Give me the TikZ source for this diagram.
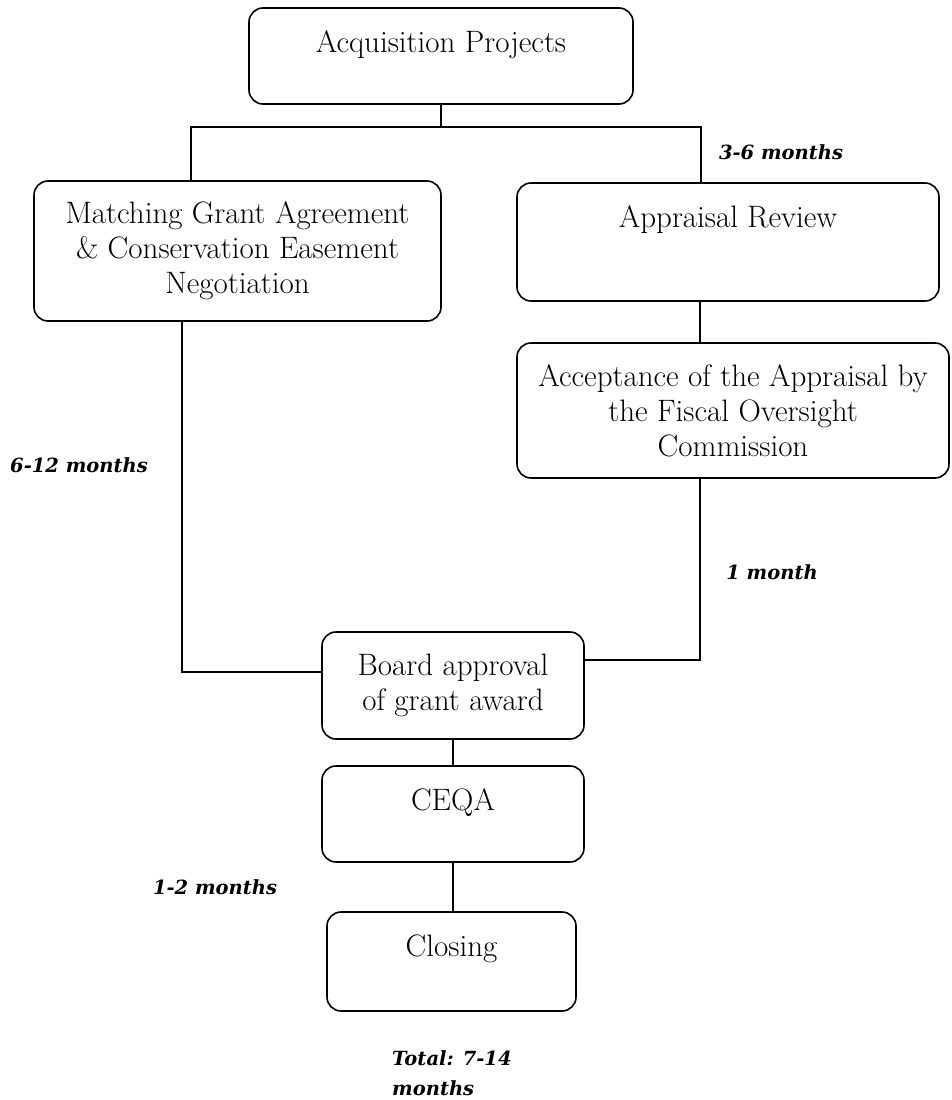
\documentclass[tikz,border=0pt]{standalone}
\usepackage{fontspec}
\newfontfamily\durfont{DejaVu Serif}

\begin{document}
\begin{tikzpicture}[x=1pt, y=-1pt,
  box/.style={draw, line width=1.6pt, rounded corners=14pt, align=center,
              inner sep=0pt, font=\fontsize{31}{35}\selectfont},
  topbox/.style={box, text height=44pt, text depth=#1},
  link/.style={draw, line width=1.4pt},
  dur/.style={font=\fontsize{19.5}{30}\selectfont\durfont\bfseries\itshape}
]
  \useasboundingbox (0,0) rectangle (951,1100);

  % process boxes
  \node[topbox=52pt, minimum width=384pt, minimum height=96pt]  (acq)     at (441,56)    {Acquisition Projects};
  \node[box, minimum width=407pt, minimum height=140pt]         (match)   at (237.5,251) {Matching Grant Agreement\\ \& Conservation Easement\\ Negotiation};
  \node[topbox=74pt, minimum width=422pt, minimum height=118pt] (appr)    at (728,242)   {Appraisal Review};
  \node[box, minimum width=432pt, minimum height=135pt]         (accept)  at (733,410.5) {Acceptance of the Appraisal by\\ the Fiscal Oversight\\ Commission};
  \node[box, minimum width=262pt, minimum height=107pt]         (board)   at (453,685.5) {Board approval\\ of grant award};
  \node[topbox=52pt, minimum width=262pt, minimum height=96pt]  (ceqa)    at (453,814)   {CEQA};
  \node[topbox=55pt, minimum width=249pt, minimum height=99pt]  (closing) at (451.5,961.5) {Closing};

  % junction points
  \coordinate (tl) at (191,127);
  \coordinate (tr) at (701,127);
  \coordinate (lline) at (182,672);
  \coordinate (rline) at (700,660);

  % connectors
  \draw[link] (acq.south) -- (acq.south |- tl);
  \draw[link] (match.north -| tl) -- (tl) -- (tr) -- (appr.north -| tr);
  \draw[link] (appr.south -| rline) -- (accept.north -| rline);
  \draw[link] (accept.south -| rline) -- (rline) -- (rline -| board.east);
  \draw[link] (match.south -| lline) -- (lline) -- (lline -| board.west);
  \draw[link] (board.south) -- (ceqa.north);
  \draw[link] (ceqa.south) -- (ceqa.south |- closing.north);

  % durations
  \node[dur] (d36)   at (781,152) {3-6 months};
  \node[dur] (d612)  at (79,465)  {6-12 months};
  \node[dur] (d1)    at (772,572) {1 month};
  \node[dur] (d12)   at (215,887) {1-2 months};
  \node[dur, align=left, anchor=west, inner sep=0pt] (total) at (392,1073) {Total: 7-14\\months};
\end{tikzpicture}
\end{document}
